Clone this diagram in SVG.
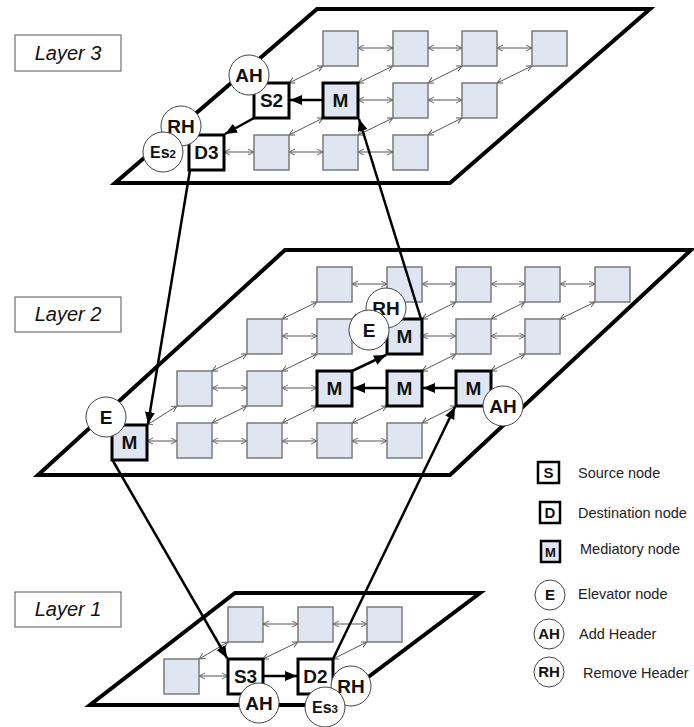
<svg xmlns="http://www.w3.org/2000/svg" width="694" height="727" viewBox="0 0 694 727">
<style>
.plane{fill:#fff;stroke:#000;stroke-width:4;stroke-linejoin:miter}
.sq{fill:#dfe6f2;stroke:#7a7a7a;stroke-width:1.5}
.med{fill:#dfe6f2;stroke:#000;stroke-width:3}
.end{fill:#fff;stroke:#000;stroke-width:3}
.circ{fill:#fff;stroke:#444;stroke-width:1}
.t{font-family:"Liberation Sans",Arial,sans-serif;font-weight:bold;font-size:19px;text-anchor:middle;fill:#111}
.ts{font-size:11.5px}
.thin{stroke:#555;stroke-width:1;fill:none;marker-start:url(#ta);marker-end:url(#ta)}
.thick{stroke:#000;stroke-width:2.5;fill:none;marker-end:url(#tk)}
.box{fill:#fff;stroke:#555;stroke-width:1}
.layer{font-family:"Liberation Sans",Arial,sans-serif;font-style:italic;font-size:20px;text-anchor:middle;fill:#111}
.leg{font-family:"Liberation Sans",Arial,sans-serif;font-size:14.5px;fill:#222}
.lt{font-family:"Liberation Sans",Arial,sans-serif;font-weight:bold;font-size:15px;text-anchor:middle;fill:#111}
.lbox{fill:#fff;stroke:#000;stroke-width:2.5}
.lmed{fill:#dfe6f2;stroke:#000;stroke-width:2.5}
.lcirc{fill:#fff;stroke:#444;stroke-width:1}
</style>
<defs>
<marker id="ta" markerUnits="userSpaceOnUse" markerWidth="8" markerHeight="8" refX="6" refY="3" orient="auto-start-reverse">
<path d="M0,0 L6,3 L0,6" fill="none" stroke="#555" stroke-width="0.9"/>
</marker>
<marker id="tk" markerUnits="userSpaceOnUse" markerWidth="14" markerHeight="12" refX="12" refY="5" orient="auto">
<path d="M0,0 L12,5 L0,10 z" fill="#000"/>
</marker>
</defs>

<g id="planes">
<polygon class="plane" points="317,9 650,9 450,183 115,183"/>
<polygon class="plane" points="285,250 691,250 450,475 38,475"/>
<polygon class="plane" points="235,593 480,593 331,705 90,705"/>
</g>

<g id="layer-labels">
<g id="label-layer3"><rect class="box" x="15" y="35" width="106" height="36"/><text class="layer" x="68" y="60">Layer 3</text></g>
<g id="label-layer2"><rect class="box" x="15" y="297" width="106" height="35"/><text class="layer" x="68" y="321">Layer 2</text></g>
<g id="label-layer1"><rect class="box" x="15" y="592" width="106" height="35"/><text class="layer" x="68" y="616">Layer 1</text></g>
</g>

<g id="thin-links">
<line class="thin" x1="358" y1="48" x2="393" y2="48"/>
<line class="thin" x1="428" y1="48" x2="462" y2="48"/>
<line class="thin" x1="497" y1="48" x2="532" y2="48"/>
<line class="thin" x1="358" y1="100" x2="393" y2="100"/>
<line class="thin" x1="428" y1="100" x2="462" y2="100"/>
<line class="thin" x1="224" y1="152" x2="254" y2="152"/>
<line class="thin" x1="289" y1="152" x2="323" y2="152"/>
<line class="thin" x1="358" y1="152" x2="393" y2="152"/>
<line class="thin" x1="289" y1="83" x2="323" y2="66"/>
<line class="thin" x1="358" y1="83" x2="393" y2="66"/>
<line class="thin" x1="428" y1="83" x2="462" y2="66"/>
<line class="thin" x1="497" y1="83" x2="532" y2="66"/>
<line class="thin" x1="289" y1="135" x2="323" y2="118"/>
<line class="thin" x1="358" y1="135" x2="393" y2="118"/>
<line class="thin" x1="428" y1="135" x2="462" y2="118"/>
<line class="thin" x1="352" y1="284" x2="387" y2="284"/>
<line class="thin" x1="422" y1="284" x2="456" y2="284"/>
<line class="thin" x1="491" y1="284" x2="525" y2="284"/>
<line class="thin" x1="560" y1="284" x2="595" y2="284"/>
<line class="thin" x1="282" y1="336" x2="317" y2="336"/>
<line class="thin" x1="352" y1="336" x2="387" y2="336"/>
<line class="thin" x1="422" y1="336" x2="456" y2="336"/>
<line class="thin" x1="491" y1="336" x2="525" y2="336"/>
<line class="thin" x1="212" y1="388" x2="247" y2="388"/>
<line class="thin" x1="282" y1="388" x2="317" y2="388"/>
<line class="thin" x1="147" y1="441" x2="177" y2="441"/>
<line class="thin" x1="212" y1="441" x2="247" y2="441"/>
<line class="thin" x1="282" y1="441" x2="317" y2="441"/>
<line class="thin" x1="352" y1="441" x2="387" y2="441"/>
<line class="thin" x1="282" y1="319" x2="317" y2="302"/>
<line class="thin" x1="352" y1="319" x2="387" y2="302"/>
<line class="thin" x1="422" y1="319" x2="456" y2="302"/>
<line class="thin" x1="491" y1="319" x2="525" y2="302"/>
<line class="thin" x1="560" y1="319" x2="595" y2="302"/>
<line class="thin" x1="212" y1="371" x2="247" y2="354"/>
<line class="thin" x1="282" y1="371" x2="317" y2="354"/>
<line class="thin" x1="422" y1="371" x2="456" y2="354"/>
<line class="thin" x1="491" y1="371" x2="525" y2="354"/>
<line class="thin" x1="147" y1="425" x2="177" y2="406"/>
<line class="thin" x1="212" y1="423" x2="247" y2="406"/>
<line class="thin" x1="282" y1="423" x2="317" y2="406"/>
<line class="thin" x1="352" y1="423" x2="387" y2="406"/>
<line class="thin" x1="422" y1="423" x2="456" y2="406"/>
<line class="thin" x1="263" y1="624" x2="298" y2="624"/>
<line class="thin" x1="333" y1="624" x2="367" y2="624"/>
<line class="thin" x1="199" y1="676" x2="228" y2="676"/>
<line class="thin" x1="199" y1="659" x2="228" y2="642"/>
<line class="thin" x1="263" y1="659" x2="298" y2="642"/>
<line class="thin" x1="333" y1="659" x2="367" y2="642"/>
</g>

<g id="nodes-layer3">
<rect class="sq" x="323" y="31" width="35" height="35"/>
<rect class="sq" x="393" y="31" width="35" height="35"/>
<rect class="sq" x="462" y="31" width="35" height="35"/>
<rect class="sq" x="532" y="31" width="35" height="35"/>
<g id="L3-S2"><rect class="end" x="254" y="83" width="35" height="35"/><text class="t" x="271.5" y="107">S2</text></g>
<g id="L3-M"><rect class="med" x="323" y="83" width="35" height="35"/><text class="t" x="340.5" y="107">M</text></g>
<rect class="sq" x="393" y="83" width="35" height="35"/>
<rect class="sq" x="462" y="83" width="35" height="35"/>
<g id="L3-D3"><rect class="end" x="189" y="135" width="35" height="35"/><text class="t" x="206.5" y="159">D3</text></g>
<rect class="sq" x="254" y="135" width="35" height="35"/>
<rect class="sq" x="323" y="135" width="35" height="35"/>
<rect class="sq" x="393" y="135" width="35" height="35"/>
</g>

<g id="nodes-layer2">
<rect class="sq" x="317" y="267" width="35" height="35"/>
<rect class="sq" x="387" y="267" width="35" height="35"/>
<rect class="sq" x="456" y="267" width="35" height="35"/>
<rect class="sq" x="525" y="267" width="35" height="35"/>
<rect class="sq" x="595" y="267" width="35" height="35"/>
<rect class="sq" x="247" y="319" width="35" height="35"/>
<rect class="sq" x="317" y="319" width="35" height="35"/>
<g id="L2-M-up"><rect class="med" x="387" y="319" width="35" height="35"/><text class="t" x="404.5" y="343">M</text></g>
<rect class="sq" x="456" y="319" width="35" height="35"/>
<rect class="sq" x="525" y="319" width="35" height="35"/>
<rect class="sq" x="177" y="371" width="35" height="35"/>
<rect class="sq" x="247" y="371" width="35" height="35"/>
<g id="L2-M-a"><rect class="med" x="317" y="371" width="35" height="35"/><text class="t" x="334.5" y="395">M</text></g>
<g id="L2-M-b"><rect class="med" x="387" y="371" width="35" height="35"/><text class="t" x="404.5" y="395">M</text></g>
<g id="L2-M-c"><rect class="med" x="456" y="371" width="35" height="35"/><text class="t" x="473.5" y="395">M</text></g>
<g id="L2-M-down"><rect class="med" x="112" y="425" width="35" height="35"/><text class="t" x="129.5" y="449">M</text></g>
<rect class="sq" x="177" y="423" width="35" height="35"/>
<rect class="sq" x="247" y="423" width="35" height="35"/>
<rect class="sq" x="317" y="423" width="35" height="35"/>
<rect class="sq" x="387" y="423" width="35" height="35"/>
</g>

<g id="nodes-layer1">
<rect class="sq" x="228" y="607" width="35" height="35"/>
<rect class="sq" x="298" y="607" width="35" height="35"/>
<rect class="sq" x="367" y="607" width="35" height="35"/>
<rect class="sq" x="164" y="659" width="35" height="35"/>
<g id="L1-S3"><rect class="end" x="228" y="659" width="35" height="35"/><text class="t" x="245.5" y="683">S3</text></g>
<g id="L1-D2"><rect class="end" x="298" y="659" width="35" height="35"/><text class="t" x="315.5" y="683">D2</text></g>
</g>

<g id="connectors">
<line class="thick" x1="323" y1="100" x2="290" y2="100"/>
<line class="thick" x1="254" y1="118" x2="225" y2="134"/>
<line class="thick" x1="387" y1="388" x2="353" y2="388"/>
<line class="thick" x1="456" y1="388" x2="423" y2="388"/>
<line class="thick" x1="352" y1="371" x2="386" y2="355"/>
<line class="thick" x1="263" y1="676" x2="297" y2="676"/>
<line class="thick" x1="190" y1="170" x2="148" y2="424"/>
<line class="thick" x1="421" y1="319" x2="359" y2="119"/>
<line class="thick" x1="113" y1="461" x2="227" y2="658"/>
<line class="thick" x1="333" y1="659" x2="455" y2="407"/>
</g>

<g id="circles-layer3">
<g id="L3-AH"><circle class="circ" cx="249" cy="75" r="20"/><text class="t" x="249" y="82">AH</text></g>
<g id="L3-RH"><circle class="circ" cx="181" cy="126" r="20"/><text class="t" x="181" y="133">RH</text></g>
<g id="L3-Es2"><circle class="circ" cx="163" cy="152" r="20"/><text class="t" x="163" y="158" style="font-size:16px">Es<tspan class="ts">2</tspan></text></g>
</g>

<g id="circles-layer2">
<g id="L2-E-left"><circle class="circ" cx="106" cy="417" r="20"/><text class="t" x="106" y="424">E</text></g>
<g id="L2-RH"><circle class="circ" cx="386" cy="308" r="20"/><text class="t" x="386" y="315">RH</text></g>
<g id="L2-E-mid"><circle class="circ" cx="369" cy="330" r="20"/><text class="t" x="369" y="337">E</text></g>
<g id="L2-AH"><circle class="circ" cx="503" cy="406" r="20"/><text class="t" x="503" y="413">AH</text></g>
</g>

<g id="circles-layer1">
<g id="L1-AH"><circle class="circ" cx="259" cy="703" r="20"/><text class="t" x="259" y="710">AH</text></g>
<g id="L1-RH"><circle class="circ" cx="351" cy="686" r="20"/><text class="t" x="351" y="693">RH</text></g>
<g id="L1-Es3"><circle class="circ" cx="325" cy="707" r="20"/><text class="t" x="325" y="713" style="font-size:16px">Es<tspan class="ts">3</tspan></text></g>
</g>

<g id="legend">
<g id="leg-S"><rect class="lbox" x="538" y="462" width="21" height="21"/><text class="lt" x="548.5" y="478">S</text><text class="leg" x="578" y="478">Source node</text></g>
<g id="leg-D"><rect class="lbox" x="540" y="502" width="20" height="21"/><text class="lt" x="550" y="518">D</text><text class="leg" x="578" y="518">Destination node</text></g>
<g id="leg-M"><rect class="lmed" x="541" y="541" width="19" height="21"/><text class="lt" x="550.5" y="557" style="font-size:13px">M</text><text class="leg" x="580" y="554">Mediatory node</text></g>
<g id="leg-E"><circle class="lcirc" cx="550" cy="595" r="15"/><text class="lt" x="550" y="600">E</text><text class="leg" x="578" y="599">Elevator node</text></g>
<g id="leg-AH"><circle class="lcirc" cx="549" cy="634" r="15"/><text class="lt" x="549" y="639">AH</text><text class="leg" x="579" y="639">Add Header</text></g>
<g id="leg-RH"><circle class="lcirc" cx="549" cy="672" r="15"/><text class="lt" x="549" y="677">RH</text><text class="leg" x="583" y="678">Remove Header</text></g>
</g>
</svg>
